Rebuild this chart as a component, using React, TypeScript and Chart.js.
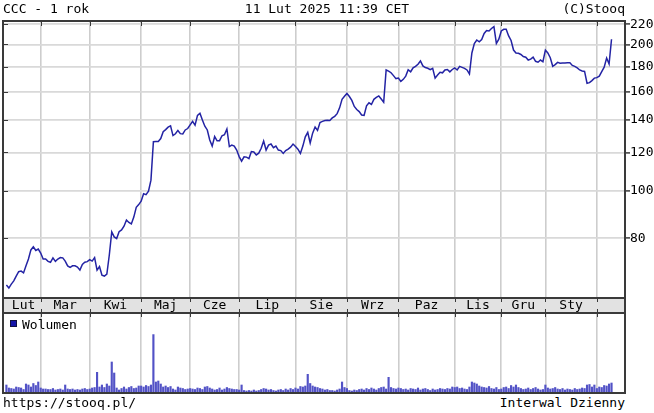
import React, { useEffect, useRef } from 'react';
import { Chart, registerables } from 'chart.js';

Chart.register(...registerables);

const titleLeft = 'CCC - 1 rok';
const titleCenter = '11 Lut 2025 11:39 CET';
const titleRight = '(C)Stooq';
const footLeft = 'https://stooq.pl/';
const footRight = 'Interwal Dzienny';
const volumeLabel = 'Wolumen';

const monthLabels = ['Lut', 'Mar', 'Kwi', 'Maj', 'Cze', 'Lip', 'Sie', 'Wrz', 'Paz', 'Lis', 'Gru', 'Sty'];
// index of first trading session of each month (Mar 2024 .. Feb 2025)
const monthStarts = [14, 34, 55, 75, 95, 118, 139, 160, 183, 202, 220, 241];
const priceTicks = [80, 100, 120, 140, 160, 180, 200, 220];

const prices = [
  // Feb 2024
  64.1, 63.2, 64.4, 65.4, 66.9, 68.3, 68.5, 67.9, 70.2, 72.5, 75.7, 76.8, 75.5, 76.0,
  // Mar
  74.6, 72.5, 72.5, 71.7, 71.4, 72.9, 71.7, 72.5, 73.0, 72.9, 71.8, 70.2, 69.7, 70.2, 70.2, 69.8, 68.8, 70.7, 71.4, 71.6,
  // Apr
  72.3, 71.8, 73.0, 68.8, 70.0, 67.2, 66.9, 67.5, 73.9, 82.4, 80.5, 79.9, 82.5, 83.2, 84.7, 87.2, 86.2, 85.6, 88.4, 92.6, 93.8,
  // May
  95.3, 98.7, 98.3, 99.9, 105.3, 126.3, 126.4, 126.4, 128.2, 132.4, 133.7, 135.3, 136.1, 130.0, 131.1, 133.2, 131.2, 131.0, 133.5, 134.4,
  // Jun
  136.7, 139.1, 136.6, 143.0, 144.4, 139.9, 135.9, 133.5, 127.3, 123.7, 129.4, 126.8, 126.9, 129.9, 130.5, 134.1, 123.4, 124.3, 123.7, 121.4,
  // Jul
  117.7, 115.2, 117.6, 117.4, 116.6, 120.5, 120.3, 118.6, 119.6, 122.4, 126.7, 121.4, 124.3, 124.9, 122.8, 123.7, 121.4, 121.1, 119.5, 121.1, 121.9, 123.1, 124.9,
  // Aug
  123.4, 121.9, 119.5, 123.7, 129.2, 132.0, 125.5, 131.5, 135.4, 133.2, 138.3, 139.0, 139.6, 139.7, 139.6, 141.3, 142.4, 144.2, 148.2, 154.3, 156.5,
  // Sep
  158.6, 156.4, 153.5, 149.2, 147.1, 145.6, 143.3, 143.0, 149.6, 151.8, 150.6, 154.3, 155.7, 156.8, 154.6, 152.2, 177.3, 176.4, 175.0, 172.6, 170.2,
  // Oct
  170.6, 168.0, 169.6, 172.2, 177.5, 175.8, 179.1, 180.3, 182.2, 185.0, 180.7, 179.3, 178.7, 177.5, 178.7, 170.6, 173.1, 175.3, 174.9, 177.3, 177.7, 175.7, 177.7,
  // Nov
  179.1, 177.3, 180.3, 179.5, 178.7, 177.3, 174.0, 192.1, 200.8, 204.3, 202.6, 204.8, 210.7, 213.7, 213.2, 215.7, 217.7, 201.0, 205.1,
  // Dec
  213.2, 214.9, 214.9, 208.3, 203.8, 194.8, 192.1, 191.8, 190.8, 188.9, 188.3, 185.8, 186.6, 188.4, 184.7, 183.9, 185.8, 184.3,
  // Jan 2025
  194.8, 192.1, 187.9, 180.4, 181.8, 183.8, 183.0, 183.3, 183.3, 183.4, 183.4, 181.1, 180.3, 179.0, 177.3, 176.4, 176.1, 166.5, 167.0, 168.6, 170.6,
  // Feb 2025
  171.0, 172.2, 175.9, 179.7, 187.6, 182.4, 205.0,
];

const volumes = [
  80, 50, 45, 40, 60, 55, 50, 35, 90, 80, 60, 95, 75, 110,
  50, 40, 40, 35, 35, 45, 30, 35, 40, 30, 80, 40, 35, 40, 30, 35, 30, 40, 45, 35,
  40, 50, 55, 207, 60, 80, 55, 90, 70, 310, 200, 50, 30, 45, 60, 40, 55, 65, 45, 50, 70,
  70, 60, 75, 65, 80, 584, 110, 120, 90, 60, 70, 55, 65, 40, 30, 60, 50, 45, 35, 40,
  45, 40, 35, 50, 45, 35, 60, 65, 50, 40, 30, 35, 50, 30, 40, 55, 45, 40, 35, 35,
  30, 80, 25, 20, 25, 20, 30, 20, 25, 35, 45, 40, 30, 35, 25, 20, 30, 35, 25, 40, 30, 45, 35,
  50, 40, 65, 60, 70, 187, 95, 70, 60, 55, 45, 40, 30, 35, 25, 25, 20, 30, 40, 110, 55,
  45, 25, 20, 30, 25, 35, 40, 30, 45, 35, 50, 40, 30, 45, 55, 60, 40, 157, 55, 45, 40,
  50, 45, 35, 40, 30, 45, 40, 35, 50, 30, 40, 45, 35, 25, 40, 30, 35, 45, 40, 35, 45, 40, 60,
  55, 60, 45, 50, 40, 35, 60, 110, 100, 90, 70, 60, 55, 50, 65, 45, 40, 55, 35,
  40, 55, 60, 45, 75, 60, 80, 55, 45, 35, 40, 50, 35, 45, 55, 40, 30, 35,
  80, 50, 40, 45, 55, 40, 35, 45, 30, 40, 35, 30, 45, 35, 40, 50, 45, 80, 85, 60, 80,
  45, 60, 55, 75, 70, 90, 100,
];

const FONT = "'DejaVu Sans Mono', monospace";
const X_MIN = -1.39;
const X_MAX = 252.5;
const FRAME = '#3a3a3a';

const labelMids = monthStarts.map((s, i) => (i === 0 ? (0 + s) / 2 : (monthStarts[i - 1] + s) / 2));

const pricePlugin = {
  id: 'stooqPrice',
  beforeDraw(chart: any) {
    const { ctx, chartArea: a, height } = chart;
    ctx.save();
    ctx.fillStyle = '#e2e2e2';
    ctx.fillRect(a.left, a.bottom, a.right - a.left, height - a.bottom);
    ctx.restore();
  },
  afterDraw(chart: any) {
    const { ctx, chartArea: a, height } = chart;
    const xs = chart.scales.x;
    const ys = chart.scales.y;
    ctx.save();
    ctx.strokeStyle = FRAME;
    ctx.lineWidth = 2;
    ctx.strokeRect(a.left, a.top, a.right - a.left, a.bottom - a.top);
    ctx.strokeRect(a.left, a.bottom, a.right - a.left, height - a.bottom);
    ctx.lineWidth = 1;
    ctx.beginPath();
    for (const m of monthStarts) {
      const px = Math.round(xs.getPixelForValue(m)) + 0.5;
      ctx.moveTo(px, a.top); ctx.lineTo(px, a.top + 5);
      ctx.moveTo(px, a.bottom); ctx.lineTo(px, a.bottom + 4);
      ctx.moveTo(px, height - 4); ctx.lineTo(px, height);
    }
    for (const v of priceTicks) {
      const py = Math.round(ys.getPixelForValue(v)) + 0.5;
      ctx.moveTo(a.left, py); ctx.lineTo(a.left + 5, py);
    }
    ctx.stroke();
    ctx.restore();
  },
};

const volumePlugin = {
  id: 'stooqVolume',
  afterDraw(chart: any) {
    const { ctx, chartArea: a } = chart;
    const xs = chart.scales.x;
    ctx.save();
    ctx.strokeStyle = FRAME;
    ctx.lineWidth = 2;
    ctx.strokeRect(a.left, a.top, a.right - a.left, a.bottom - a.top);
    ctx.lineWidth = 1;
    ctx.beginPath();
    for (const m of monthStarts) {
      const px = Math.round(xs.getPixelForValue(m)) + 0.5;
      ctx.moveTo(px, a.top); ctx.lineTo(px, a.top + 4);
    }
    ctx.stroke();
    ctx.restore();
  },
};

export default function App() {
  const priceRef = useRef<HTMLCanvasElement>(null);
  const volRef = useRef<HTMLCanvasElement>(null);

  useEffect(() => {
    document.body.style.margin = '0';
    const priceChart = new Chart(priceRef.current as HTMLCanvasElement, {
      type: 'line',
      data: {
        datasets: [
          {
            data: prices.map((p, i) => ({ x: i, y: p })),
            borderColor: '#2323a4',
            borderWidth: 1.5,
            pointRadius: 0,
            tension: 0,
            fill: false,
          },
        ],
      },
      options: {
        animation: false,
        responsive: false,
        events: [],
        layout: { padding: { left: 3, top: 21, right: 0, bottom: 0 } },
        plugins: { legend: { display: false }, tooltip: { enabled: false }, title: { display: false } },
        scales: {
          x: {
            type: 'linear',
            position: 'bottom',
            min: X_MIN,
            max: X_MAX,
            bounds: 'data',
            offset: false,
            afterBuildTicks: (s: any) => { s.ticks = monthStarts.map((v) => ({ value: v })); },
            afterFit: (s: any) => { s.height = 0; },
            ticks: { display: false },
            border: { display: false },
            grid: { color: '#cdcdcd', lineWidth: 1.6, drawTicks: false, offset: false },
          },
          x2: {
            type: 'linear',
            position: 'bottom',
            min: X_MIN,
            max: X_MAX,
            bounds: 'data',
            offset: false,
            afterBuildTicks: (s: any) => { s.ticks = labelMids.map((v) => ({ value: v })); },
            afterFit: (s: any) => { s.height = 15; },
            ticks: {
              autoSkip: false,
              maxRotation: 0,
              padding: 0,
              color: '#000',
              font: { family: FONT, size: 13 },
              callback: (_v: any, i: number) => monthLabels[i],
            },
            border: { display: false },
            grid: { display: false, drawTicks: false },
          },
          y: {
            type: 'logarithmic',
            position: 'right',
            min: 60.3,
            max: 223.5,
            bounds: 'data',
            afterBuildTicks: (s: any) => { s.ticks = priceTicks.map((v) => ({ value: v })); },
            afterFit: (s: any) => { s.width = 29; },
            ticks: {
              padding: 0,
              color: '#000',
              font: { family: FONT, size: 13 },
              callback: (v: any) => String(v),
            },
            border: { display: false },
            grid: { color: '#d9d9d9', lineWidth: 1.8, drawTicks: true, tickLength: 5, tickColor: FRAME, tickWidth: 1.5 },
          },
        },
      } as any,
      plugins: [pricePlugin],
    });

    const volumeChart = new Chart(volRef.current as HTMLCanvasElement, {
      type: 'bar',
      data: {
        datasets: [
          {
            data: volumes.map((v, i) => ({ x: i, y: v })),
            backgroundColor: '#5252c6',
            borderWidth: 0,
            barThickness: 1.5,
          },
        ],
      },
      options: {
        animation: false,
        responsive: false,
        events: [],
        layout: { padding: { left: 3, top: 0, right: 29, bottom: 1 } },
        plugins: { legend: { display: false }, tooltip: { enabled: false } },
        scales: {
          x: {
            type: 'linear',
            min: X_MIN,
            max: X_MAX,
            bounds: 'data',
            offset: false,
            afterBuildTicks: (s: any) => { s.ticks = monthStarts.map((v) => ({ value: v })); },
            afterFit: (s: any) => { s.height = 0; },
            ticks: { display: false },
            border: { display: false },
            grid: { color: '#cdcdcd', lineWidth: 1.6, drawTicks: false, offset: false },
          },
          y: {
            display: false,
            min: 0,
            max: 800,
          },
        },
      } as any,
      plugins: [volumePlugin],
    });

    return () => {
      priceChart.destroy();
      volumeChart.destroy();
    };
  }, []);

  const text: React.CSSProperties = {
    position: 'absolute',
    fontFamily: FONT,
    fontSize: 13,
    lineHeight: '13px',
    color: '#000',
    whiteSpace: 'pre',
  };

  return (
    <div style={{ position: 'absolute', left: 0, top: 0, width: 654, height: 413, background: '#fff', overflow: 'hidden' }}>
      <canvas ref={priceRef} width={654} height={313} style={{ position: 'absolute', left: 0, top: 0, display: 'block' }} />
      <canvas ref={volRef} width={654} height={81} style={{ position: 'absolute', left: 0, top: 313, display: 'block' }} />
      <div style={{ ...text, left: 3, top: 2 }}>{titleLeft}</div>
      <div style={{ ...text, left: 0, width: 654, top: 2, textAlign: 'center' }}>{titleCenter}</div>
      <div style={{ ...text, right: 29, top: 2 }}>{titleRight}</div>
      <div style={{ position: 'absolute', left: 10, top: 320, width: 5, height: 5, background: '#1414a8', border: '1px solid #101040' }} />
      <div style={{ ...text, left: 22, top: 318 }}>{volumeLabel}</div>
      <div style={{ ...text, left: 3, top: 396 }}>{footLeft}</div>
      <div style={{ ...text, right: 29, top: 396 }}>{footRight}</div>
    </div>
  );
}
